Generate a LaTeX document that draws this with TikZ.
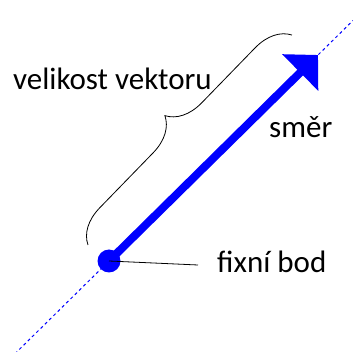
\documentclass[tikz,border=0pt]{standalone}
\usepackage{fontspec}
\setmainfont{Carlito}
\usetikzlibrary{arrows.meta,decorations.pathreplacing}
\definecolor{vblue}{RGB}{0,0,255}
\tikzset{
  lbl/.style={anchor=base west, inner sep=0pt, font=\fontsize{31}{36}\selectfont},
  vec/.style={draw=vblue, line width=8pt, -{Triangle[length=25pt,width=50pt]}},
  axis/.style={draw=vblue, line width=1pt, dash pattern=on 3pt off 3pt},
  dot/.style={circle, fill=vblue, inner sep=0pt, minimum size=23pt},
  leader/.style={draw=black, line width=0.8pt},
  bracestyle/.style={draw=black, line width=0.8pt, decorate, decoration={brace, amplitude=35pt}}
}
\begin{document}
\begin{tikzpicture}[x=1pt,y=-1pt]
\useasboundingbox (0,0) rectangle (353,352);
\coordinate (a0) at (15,353.7);
\coordinate (a1) at (353,20.5);
\coordinate (tip) at (318,55);
\coordinate (lend) at (198,265);
\coordinate (b0) at (88,245);
\coordinate (b1) at (292,35);
\draw[axis] (a0) -- (a1);
\node[dot] (fixed) at (109,261) {};
\draw[vec] (fixed.center) -- (tip);
\draw[leader] (fixed.center) -- (lend);
\draw[bracestyle] (b0) -- (b1);
\node[lbl] (vel) at (13,90) {velikost vektoru};
\node[lbl] (smer) at (269,138) {směr};
\node[lbl] (fix) at (217,273) {fixní bod};
\end{tikzpicture}
\end{document}
